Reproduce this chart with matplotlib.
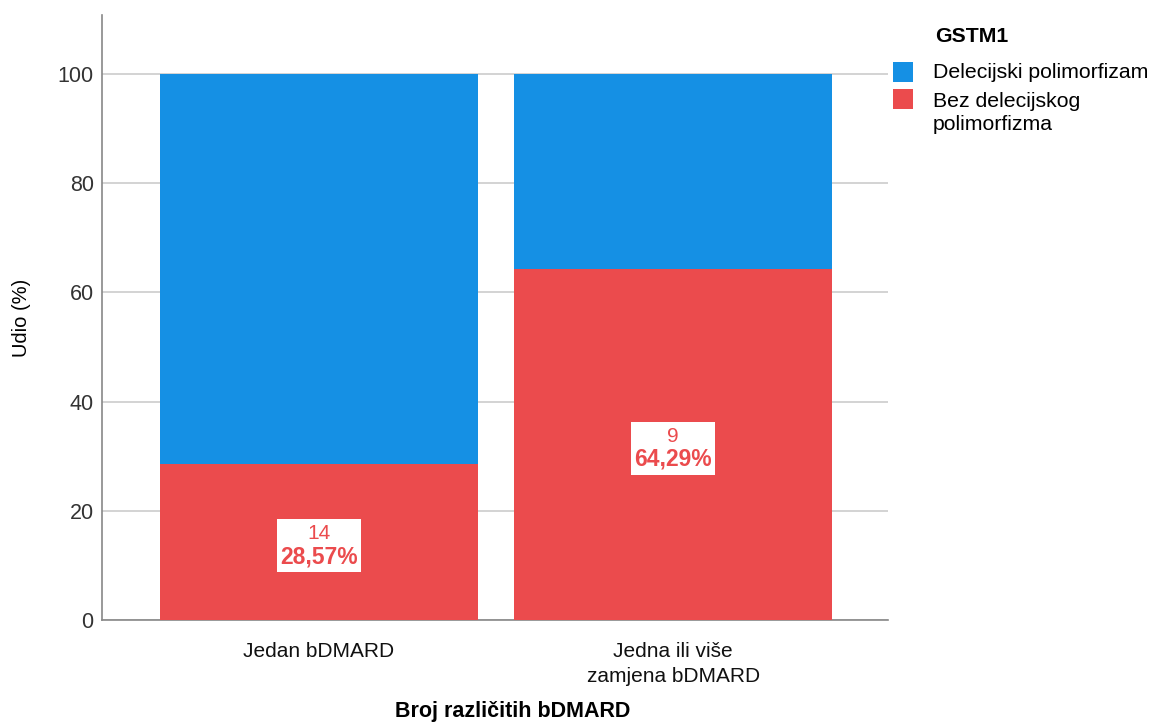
import matplotlib
matplotlib.use("Agg")
import matplotlib.pyplot as plt
from matplotlib.patches import Rectangle

plt.rcParams['font.family'] = ['Liberation Sans', 'DejaVu Sans']

categories = ["Jedan bDMARD", "Jedna ili više\nzamjena bDMARD"]
series_names = ["Delecijski polimorfizam", "Bez delecijskog\npolimorfizma"]
legend_title = "GSTM1"
bez_pct = [28.57, 64.29]
del_pct = [71.43, 35.71]
bez_counts = [14, 9]
yticks = [0, 20, 40, 60, 80, 100]

blue = "#1590E4"
red = "#EB4B4D"
series_colors = [blue, red]

W, H = 1154, 722
fig = plt.figure(figsize=(W/100, H/100), dpi=100)
ax = fig.add_axes([102/W, 1-620/H, 786/W, 605/H])

x = list(range(len(categories)))
w = 0.898
ax.bar(x, bez_pct, width=w, color=red, zorder=3)
ax.bar(x, del_pct, width=w, bottom=bez_pct, color=blue, zorder=3)

label_pairs = []
for xi, b, c in zip(x, bez_pct, bez_counts):
    ymid = b / 2
    pct = f"{b:.2f}%".replace(".", ",")
    t1 = ax.annotate(str(c), (xi, ymid), xytext=(0, 6), textcoords="offset points",
                     ha="center", va="center", color=red, fontsize=15, zorder=6)
    t2 = ax.annotate(pct, (xi, ymid), xytext=(0, -10.5), textcoords="offset points",
                     ha="center", va="center", color=red, fontsize=16.5, fontweight="bold", zorder=6)
    label_pairs.append((t1, t2))

ax.set_xlim(-0.613, 1.607)
ax.set_ylim(0, 110.8)
ax.set_yticks(yticks)
ax.set_yticklabels([str(v) for v in yticks], fontsize=15.5, color="#333333")
ax.set_xticks(x)
ax.set_xticklabels(categories, fontsize=15, color="#111111", linespacing=1.4)
ax.tick_params(axis="both", length=0)
ax.tick_params(axis="y", pad=6)
ax.tick_params(axis="x", pad=16)
ax.yaxis.grid(True, color="#CCCCCC", linewidth=1.2, zorder=0)
ax.set_axisbelow(True)
for s in ["top", "right"]:
    ax.spines[s].set_visible(False)
for s in ["left", "bottom"]:
    ax.spines[s].set_color("#888888")
    ax.spines[s].set_linewidth(1.2)

ax.set_ylabel("Udio (%)", fontsize=14.5, labelpad=19)
fig.text(513/W, 1-712/H, "Broj različitih bDMARD", ha="center",
         va="center", fontsize=15.5, fontweight="bold")

# legend (manual, to match layout)
fig.text(935/W, 1-37/H, legend_title, ha="left", va="center", fontsize=15.3, fontweight="bold")
patch_tops = [62, 89]
text_centers = [72, 113]
for col, name, pt, tc in zip(series_colors, series_names, patch_tops, text_centers):
    fig.patches.append(Rectangle((893/W, 1-(pt+20)/H), 20/W, 20/H, transform=fig.transFigure,
                                 facecolor=col, edgecolor="none"))
    fig.text(933/W, 1-tc/H, name, ha="left", va="center", fontsize=15.3, linespacing=1.3)

fig.canvas.draw()
r = fig.canvas.get_renderer()
inv = fig.transFigure.inverted()
for t1, t2 in label_pairs:
    bb1 = t1.get_window_extent(r)
    bb2 = t2.get_window_extent(r)
    x0 = min(bb1.x0, bb2.x0) - 3
    x1 = max(bb1.x1, bb2.x1) + 3
    y0 = min(bb1.y0, bb2.y0) - 4
    y1 = max(bb1.y1, bb2.y1) + 5
    (fx0, fy0) = inv.transform((x0, y0))
    (fx1, fy1) = inv.transform((x1, y1))
    rect = Rectangle((fx0, fy0), fx1-fx0, fy1-fy0, transform=fig.transFigure,
                     facecolor="white", edgecolor="none", zorder=5)
    ax.add_artist(rect)

fig.savefig("out.png", dpi=100)
